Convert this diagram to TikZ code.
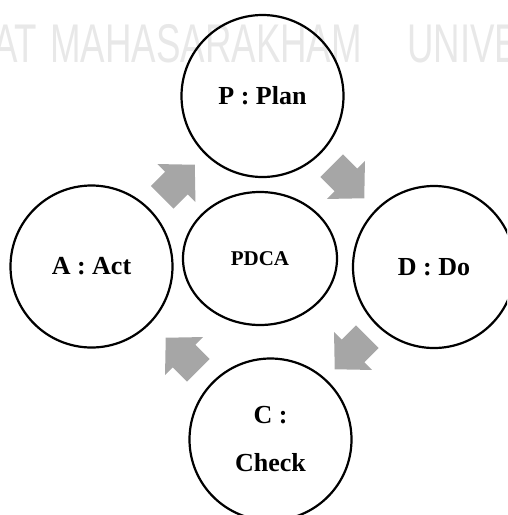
\documentclass[tikz,border=0pt]{standalone}
\usepackage{fontspec}
\usepackage{graphicx}
\usetikzlibrary{shapes.geometric}
\setmainfont{Liberation Serif}
\newfontfamily\wmfont{Liberation Sans}
\definecolor{arrowgray}{RGB}{166,166,166}
\definecolor{wmgray}{RGB}{232,232,232}
\begin{document}
\begin{tikzpicture}[x=1pt,y=-1pt,
  stage/.style={circle, draw=black, line width=2.2pt, minimum size=162pt, inner sep=0pt,
    align=center, font=\bfseries\fontsize{26}{48}\selectfont},
  core/.style={ellipse, draw=black, line width=2.2pt, minimum width=154pt, minimum height=133pt,
    inner sep=0pt, font=\bfseries\fontsize{21}{24}\selectfont},
  wm/.style={anchor=base west, inner sep=0pt, text=wmgray, font=\wmfont\fontsize{54.5}{60}\selectfont},
  flowarrow/.pic={\fill[arrowgray] (-23,-16) -- (-3,-16) -- (-3,-27) -- (23,0) -- (-3,27) -- (-3,16) -- (-23,16) -- cycle;}
]
\useasboundingbox (0,0) rectangle (507,515);
\clip (0,0) rectangle (507,515);
% watermark
\node[wm] (wmA) at (-7,62) {\scalebox{0.673}[1]{AT}};
\node[wm] (wmB) at (50,62) {\scalebox{0.673}[1]{MAHASARAKHAM}};
\node[wm] (wmC) at (407,62) {\scalebox{0.673}[1]{UNIVE}};
% stages
\node[stage] (P) at (262.5,96) {P : Plan};
\node[stage] (A) at (91.5,266.5) {A : Act};
\node[stage] (D) at (434,267) {D : Do};
\node[stage] (C) at (270.5,439.5) {C :\\Check};
\node[core] (X) at (260,258.5) {PDCA};
% arrows
\pic[rotate=45] at (178.5,181) {flowarrow};
\pic[rotate=-45] at (348,182) {flowarrow};
\pic[rotate=-135] at (351,353) {flowarrow};
\pic[rotate=135] at (182,354) {flowarrow};
\end{tikzpicture}
\end{document}
